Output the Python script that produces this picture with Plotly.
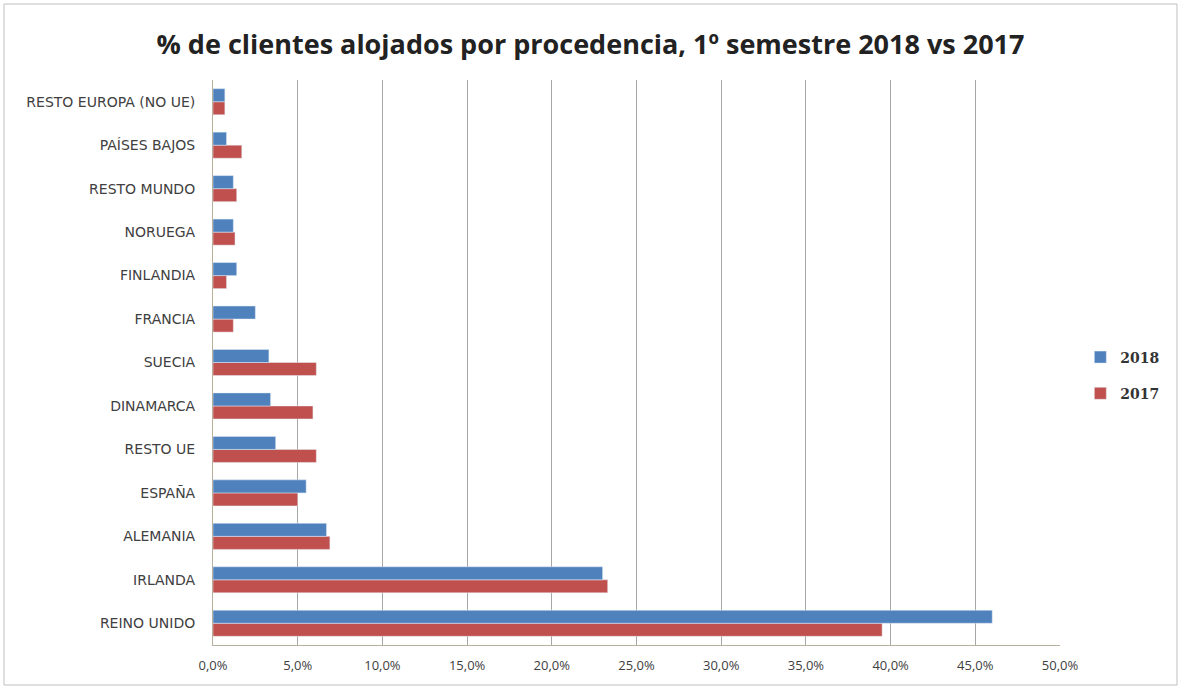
import plotly.graph_objects as go

categories = ["REINO UNIDO", "IRLANDA", "ALEMANIA", "ESPAÑA", "RESTO UE", "DINAMARCA",
              "SUECIA", "FRANCIA", "FINLANDIA", "NORUEGA", "RESTO MUNDO", "PAÍSES BAJOS",
              "RESTO EUROPA (NO UE)"]
v2018 = [46.0, 23.0, 6.7, 5.5, 3.7, 3.4, 3.3, 2.5, 1.4, 1.2, 1.2, 0.8, 0.7]
v2017 = [39.5, 23.3, 6.9, 5.0, 6.1, 5.9, 6.1, 1.2, 0.8, 1.3, 1.4, 1.7, 0.7]
tick_vals = [0, 5, 10, 15, 20, 25, 30, 35, 40, 45, 50]
tick_text = ["0,0%", "5,0%", "10,0%", "15,0%", "20,0%", "25,0%", "30,0%", "35,0%",
             "40,0%", "45,0%", "50,0%"]

fig = go.Figure()
fig.add_trace(go.Bar(y=categories, x=v2017, name="2017", orientation="h",
                     legendgroup="g2017", legendrank=2, marker=dict(color="#C0504D")))
fig.add_trace(go.Bar(y=categories, x=v2018, name="2018", orientation="h",
                     legendgroup="g2018", legendrank=1, marker=dict(color="#4F81BD")))

fig.update_layout(
    width=1181, height=689,
    paper_bgcolor="white", plot_bgcolor="white",
    barmode="group", bargap=0.4, bargroupgap=0,
    margin=dict(l=213, r=121, t=80, b=44, autoexpand=False),
    title=dict(text="% de clientes alojados por procedencia, 1º semestre 2018 vs 2017",
               x=0.5, xref="container", xanchor="center", y=0.935, yanchor="middle",
               font=dict(family="Open Sans", size=27, color="#222222", weight="bold")),
    legend=dict(x=1.024, y=0.477, xanchor="left", yanchor="middle",
                traceorder="grouped", tracegroupgap=15,
                font=dict(family="DejaVu Serif", size=14, color="#333333", weight="bold"),
                itemwidth=30),
    font=dict(family="DejaVu Sans", size=14, color="#404040"),
    showlegend=True,
)
fig.update_xaxes(range=[0, 50], tickvals=tick_vals, ticktext=tick_text,
                 showgrid=True, gridcolor="#A6A6A6", gridwidth=1,
                 showline=True, linecolor="#B8B09C", linewidth=1,
                 ticks="", ticklabelstandoff=8, automargin=False,
                 tickfont=dict(family="Open Sans", size=13, color="#404040"),
                 zeroline=False)
fig.update_yaxes(showline=True, linecolor="#B8B09C", linewidth=1,
                 ticks="", ticklabelstandoff=14, automargin=False,
                 tickfont=dict(family="DejaVu Sans", size=14, color="#404040"),
                 showgrid=False)

fig.add_shape(type="rect", xref="paper", yref="paper",
              x0=(4 - 213) / 847, x1=(1177 - 213) / 847,
              y0=(645 - 685) / 565, y1=(645 - 4) / 565,
              line=dict(color="#BFBFBF", width=1), fillcolor="rgba(0,0,0,0)", layer="below")

fig.write_html("out.html", config={"displayModeBar": False},
               post_script="document.body.style.margin='0';document.body.style.overflow='hidden';")
